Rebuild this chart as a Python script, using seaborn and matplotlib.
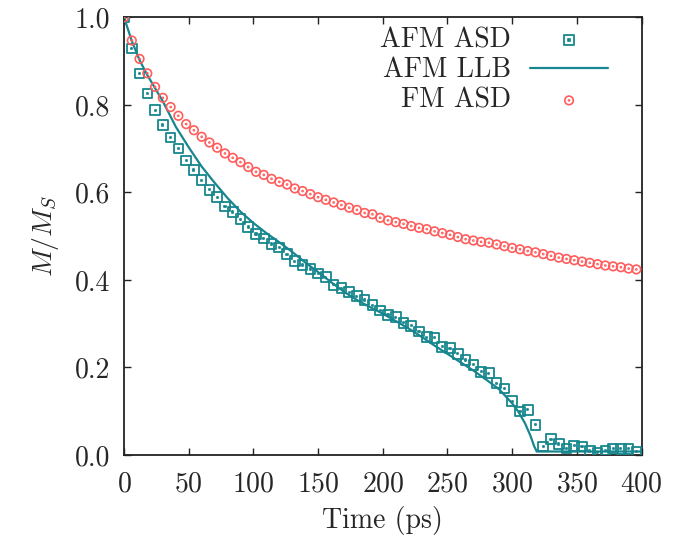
import matplotlib
matplotlib.use("Agg")
import matplotlib.pyplot as plt
from matplotlib.path import Path
from matplotlib.transforms import Affine2D
import seaborn as sns
import pandas as pd

# sampling times of the spin dynamics runs (ps)
time_asd = [0, 6, 12, 18, 24, 30, 36, 42, 48, 54, 60, 66, 72, 78, 84, 90, 96,
            102, 108, 114, 120, 126, 132, 138, 144, 150, 156, 162, 168, 174,
            180, 186, 192, 198, 204, 210, 216, 222, 228, 234, 240, 246, 252,
            258, 264, 270, 276, 282, 288, 294, 300, 306, 312, 318, 324, 330,
            336, 342, 348, 354, 360, 366, 372, 378, 384, 390, 396]

afm_asd = [1.000, 0.929, 0.872, 0.826, 0.788, 0.754, 0.725, 0.700, 0.673, 0.651,
           0.628, 0.606, 0.589, 0.568, 0.555, 0.539, 0.521, 0.505, 0.495, 0.482,
           0.474, 0.459, 0.443, 0.434, 0.425, 0.415, 0.406, 0.389, 0.381, 0.372,
           0.363, 0.354, 0.342, 0.330, 0.320, 0.315, 0.302, 0.295, 0.282, 0.269,
           0.268, 0.247, 0.244, 0.231, 0.217, 0.206, 0.190, 0.187, 0.164, 0.152,
           0.123, 0.099, 0.103, 0.069, 0.019, 0.036, 0.025, 0.015, 0.021, 0.019,
           0.009, 0.006, 0.010, 0.015, 0.014, 0.014, 0.008]

fm_asd = [1.000, 0.947, 0.905, 0.872, 0.841, 0.816, 0.795, 0.775, 0.756, 0.742,
          0.727, 0.714, 0.702, 0.689, 0.679, 0.669, 0.658, 0.647, 0.640, 0.631,
          0.624, 0.618, 0.609, 0.603, 0.596, 0.589, 0.583, 0.577, 0.571, 0.565,
          0.560, 0.553, 0.550, 0.542, 0.536, 0.532, 0.528, 0.523, 0.519, 0.516,
          0.511, 0.507, 0.503, 0.498, 0.493, 0.490, 0.487, 0.485, 0.481, 0.477,
          0.473, 0.470, 0.466, 0.463, 0.459, 0.455, 0.451, 0.448, 0.445, 0.442,
          0.439, 0.436, 0.433, 0.431, 0.429, 0.426, 0.424]

# LLB curve
time_llb = [0, 6, 12, 18, 24, 30, 40, 50, 60, 70, 80, 90, 100, 110, 120, 130,
            140, 150, 160, 170, 180, 190, 200, 210, 220, 230, 240, 250, 260,
            270, 280, 290, 300, 305, 310, 314, 317, 319, 330, 350, 370, 400]
afm_llb = [1.000, 0.946, 0.902, 0.868, 0.838, 0.808, 0.750, 0.703, 0.659, 0.622,
           0.587, 0.556, 0.530, 0.507, 0.486, 0.464, 0.440, 0.418, 0.395, 0.373,
           0.354, 0.338, 0.323, 0.306, 0.289, 0.270, 0.250, 0.231, 0.212, 0.193,
           0.172, 0.150, 0.118, 0.098, 0.072, 0.045, 0.020, 0.008, 0.008, 0.008,
           0.008, 0.008]

teal = "#17868e"
red = "#ff5c5c"

asd = pd.DataFrame({"t": time_asd, "afm": afm_asd, "fm": fm_asd})
llb = pd.DataFrame({"t": time_llb, "m": afm_llb})

# gnuplot-like open markers with a dot in the middle
sq = Path.unit_rectangle().transformed(Affine2D().translate(-0.5, -0.5))
square_dot = Path.make_compound_path(sq, sq.transformed(Affine2D().scale(0.12)))
circ = Path.unit_circle()
circle_dot = Path.make_compound_path(circ, circ.transformed(Affine2D().scale(0.12)))

sns.set_style("ticks")
plt.rcParams["font.family"] = ["cmr10", "DejaVu Serif"]
plt.rcParams["mathtext.fontset"] = "cm"
plt.rcParams["axes.formatter.use_mathtext"] = True

fig = plt.figure(figsize=(6.86, 5.44), dpi=100)
ax = fig.add_axes([0.1808, 0.1636, 0.7544, 0.8046])

sns.scatterplot(data=asd, x="t", y="afm", ax=ax, marker=square_dot, s=48,
                facecolor="none", edgecolor=teal, linewidth=1.3, label="AFM ASD", zorder=3)
sns.lineplot(data=llb, x="t", y="m", ax=ax, color=teal, linewidth=1.6, label="AFM LLB", zorder=2)
sns.scatterplot(data=asd, x="t", y="fm", ax=ax, marker=circle_dot, s=38,
                facecolor="none", edgecolor=red, linewidth=1.2, label="FM ASD", zorder=3)

ax.set_xlim(0, 400)
ax.set_ylim(0, 1.0)
ax.set_xticks([0, 50, 100, 150, 200, 250, 300, 350, 400])
ax.set_yticks([0.0, 0.2, 0.4, 0.6, 0.8, 1.0])
ax.set_yticklabels(["0.0", "0.2", "0.4", "0.6", "0.8", "1.0"])
ax.tick_params(direction="in", top=True, right=True, length=5, width=1.0,
               labelsize=20, color="#222222")
ax.tick_params(axis="x", pad=12)
ax.tick_params(axis="y", pad=10)
for sp in ax.spines.values():
    sp.set_linewidth(1.3)
    sp.set_color("#222222")

ax.set_xlabel("Time (ps)", fontsize=20, labelpad=6)
ax.set_ylabel("$M/M_S$", fontsize=20, labelpad=10)

leg = ax.legend(loc="upper right", bbox_to_anchor=(0.935, 0.978), frameon=False,
                markerfirst=False, fontsize=20, handlelength=2.8, handletextpad=0.7,
                labelspacing=0.14, borderpad=0, borderaxespad=0)
# right-align the entries like gnuplot does
for col in leg._legend_handle_box.get_children():
    col.align = "right"

fig.savefig("out.png", dpi=100)
